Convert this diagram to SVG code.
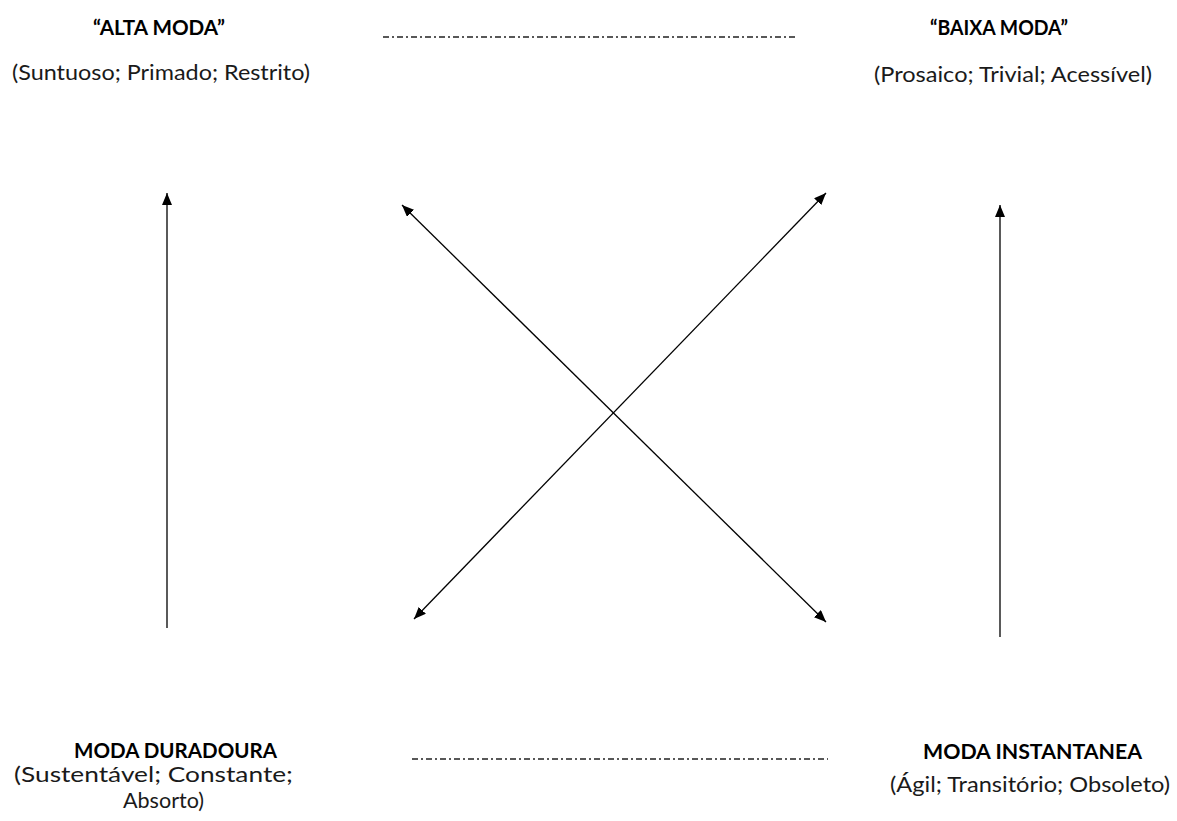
<svg xmlns="http://www.w3.org/2000/svg" width="1177" height="821" viewBox="0 0 1177 821">
<style>
.t{font-family:Lato,"Open Sans","Liberation Sans",sans-serif;font-size:21px;fill:#1a1a1a}
.b{font-weight:bold;fill:#000}
.ln{stroke:#000;stroke-width:1.3;fill:none}
.dd{stroke:#222;stroke-width:1.5;stroke-dasharray:6 3 2 3;fill:none}
</style>
<defs>
<marker id="ah" viewBox="0 0 12 10" refX="12" refY="5" markerWidth="12" markerHeight="10" markerUnits="userSpaceOnUse" orient="auto-start-reverse">
<path d="M0,0 L12,5 L0,10 z" fill="#000"/>
</marker>
</defs>
<rect width="1177" height="821" fill="#fff"/>
<g id="alta-moda">
<text class="t b" x="93" y="35" textLength="132" lengthAdjust="spacingAndGlyphs">“ALTA MODA”</text>
<text class="t" x="12" y="80" textLength="298" lengthAdjust="spacingAndGlyphs">(Suntuoso; Primado; Restrito)</text>
</g>
<g id="baixa-moda">
<text class="t b" x="930" y="35" textLength="138" lengthAdjust="spacingAndGlyphs">“BAIXA MODA”</text>
<text class="t" x="874" y="82" textLength="278" lengthAdjust="spacingAndGlyphs">(Prosaico; Trivial; Acessível)</text>
</g>
<g id="moda-duradoura">
<text class="t b" x="74" y="758" textLength="203" lengthAdjust="spacingAndGlyphs">MODA DURADOURA</text>
<text class="t" x="14" y="782" textLength="279" lengthAdjust="spacingAndGlyphs">(Sustentável; Constante;</text>
<text class="t" x="123" y="808" textLength="81" lengthAdjust="spacingAndGlyphs">Absorto)</text>
</g>
<g id="moda-instantanea">
<text class="t b" x="923" y="759" textLength="219" lengthAdjust="spacingAndGlyphs">MODA INSTANTANEA</text>
<text class="t" x="890" y="792" textLength="280" lengthAdjust="spacingAndGlyphs">(Ágil; Transitório; Obsoleto)</text>
</g>
<g id="connectors">
<line class="dd" x1="383" y1="37" x2="797" y2="37"/>
<line class="dd" x1="412" y1="759" x2="828" y2="759"/>
<line class="ln" x1="167" y1="628" x2="167" y2="193" marker-end="url(#ah)"/>
<line class="ln" x1="1000" y1="637" x2="1000" y2="205" marker-end="url(#ah)"/>
<line class="ln" x1="402" y1="205" x2="826" y2="622" marker-start="url(#ah)" marker-end="url(#ah)"/>
<line class="ln" x1="414" y1="619" x2="826" y2="193" marker-start="url(#ah)" marker-end="url(#ah)"/>
</g>
</svg>
